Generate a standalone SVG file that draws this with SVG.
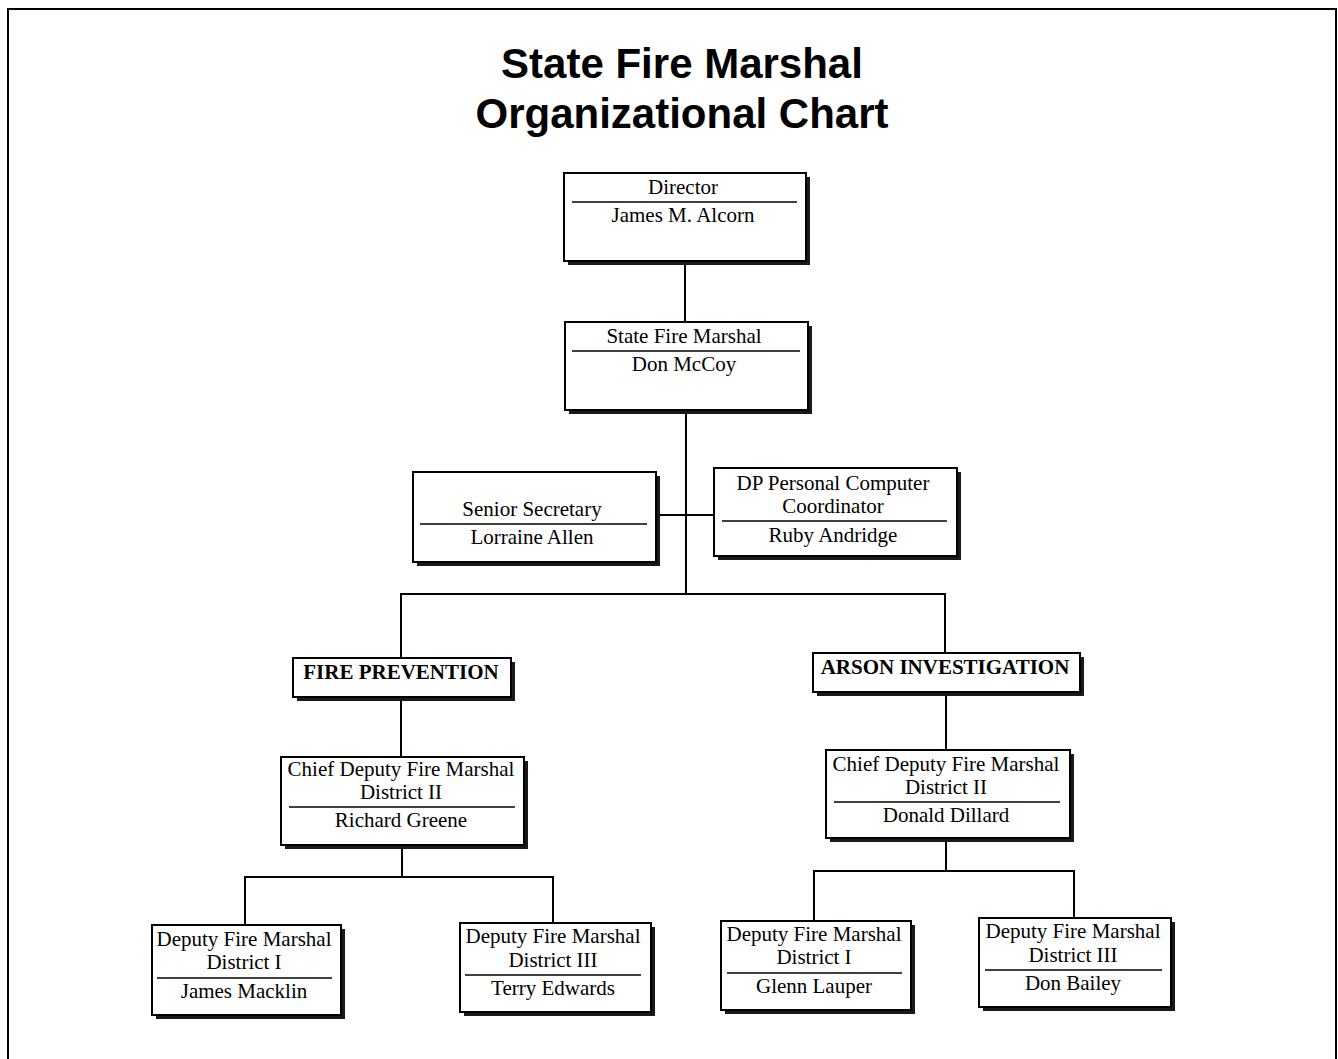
<svg xmlns="http://www.w3.org/2000/svg" width="1338" height="1059" viewBox="0 0 1338 1059">
<style>
.title{font-family:"Liberation Sans",Arial,sans-serif;font-weight:bold;font-size:42px;fill:#000;text-anchor:middle}
.t{font-family:"Liberation Serif","Times New Roman",serif;font-size:21px;fill:#000;text-anchor:middle}
.h{font-family:"Liberation Serif","Times New Roman",serif;font-size:21px;font-weight:bold;fill:#000;text-anchor:middle}
.sh{fill:#1a1a1a}
.bx{fill:#fff;stroke:#000;stroke-width:2}
.dv{stroke:#000;stroke-width:1.5}
.c{stroke:#000;stroke-width:2;fill:none}
</style>
<rect x="0" y="0" width="1338" height="1059" fill="#fff"/>
<path d="M8 1059 V9 H1336 V1059" fill="none" stroke="#000" stroke-width="2"/>
<text class="title" x="682" y="78">State Fire Marshal</text>
<text class="title" x="682" y="128">Organizational Chart</text>

<g id="connectors">
<path class="c" d="M685 265 V322"/>
<path class="c" d="M686 414 V594"/>
<path class="c" d="M660 515 H714"/>
<path class="c" d="M401 658 V594 H945 V653"/>
<path class="c" d="M401 701 V757"/>
<path class="c" d="M946 696 V750"/>
<path class="c" d="M402 849 V877"/>
<path class="c" d="M245 925 V877 H553 V923"/>
<path class="c" d="M946 842 V871"/>
<path class="c" d="M814 921 V871 H1074 V918"/>
</g>

<g id="director">
<rect class="sh" x="568" y="177" width="242" height="88"/>
<rect class="bx" x="564" y="173" width="242" height="88"/>
<line class="dv" x1="572" y1="202" x2="797" y2="202"/>
<text class="t" x="683" y="194">Director</text>
<text class="t" x="683" y="222">James M. Alcorn</text>
</g>

<g id="state-fire-marshal">
<rect class="sh" x="569" y="326" width="243" height="88"/>
<rect class="bx" x="565" y="322" width="243" height="88"/>
<line class="dv" x1="572" y1="351" x2="800" y2="351"/>
<text class="t" x="684" y="343">State Fire Marshal</text>
<text class="t" x="684" y="371">Don McCoy</text>
</g>

<g id="senior-secretary">
<rect class="sh" x="417" y="476" width="243" height="90"/>
<rect class="bx" x="413" y="472" width="243" height="90"/>
<line class="dv" x1="420" y1="524" x2="647" y2="524"/>
<text class="t" x="532" y="516">Senior Secretary</text>
<text class="t" x="532" y="544">Lorraine Allen</text>
</g>

<g id="dp-coordinator">
<rect class="sh" x="718" y="472" width="243" height="88"/>
<rect class="bx" x="714" y="468" width="243" height="88"/>
<line class="dv" x1="722" y1="521" x2="947" y2="521"/>
<text class="t" x="833" y="490">DP Personal Computer</text>
<text class="t" x="833" y="513">Coordinator</text>
<text class="t" x="833" y="542">Ruby Andridge</text>
</g>

<g id="fire-prevention">
<rect class="sh" x="297" y="662" width="218" height="39"/>
<rect class="bx" x="293" y="658" width="218" height="39"/>
<text class="h" x="401" y="679">FIRE PREVENTION</text>
</g>

<g id="arson-investigation">
<rect class="sh" x="817" y="657" width="267" height="39"/>
<rect class="bx" x="813" y="653" width="267" height="39"/>
<text class="h" x="945" y="674">ARSON INVESTIGATION</text>
</g>

<g id="chief-deputy-fp">
<rect class="sh" x="285" y="761" width="243" height="88"/>
<rect class="bx" x="281" y="757" width="243" height="88"/>
<line class="dv" x1="289" y1="807" x2="515" y2="807"/>
<text class="t" x="401" y="776">Chief Deputy Fire Marshal</text>
<text class="t" x="401" y="799">District II</text>
<text class="t" x="401" y="827">Richard Greene</text>
</g>

<g id="chief-deputy-ai">
<rect class="sh" x="830" y="754" width="244" height="88"/>
<rect class="bx" x="826" y="750" width="244" height="88"/>
<line class="dv" x1="834" y1="802" x2="1060" y2="802"/>
<text class="t" x="946" y="771">Chief Deputy Fire Marshal</text>
<text class="t" x="946" y="794">District II</text>
<text class="t" x="946" y="822">Donald Dillard</text>
</g>

<g id="deputy-fp-1">
<rect class="sh" x="156" y="929" width="189" height="90"/>
<rect class="bx" x="152" y="925" width="189" height="90"/>
<line class="dv" x1="157" y1="978" x2="332" y2="978"/>
<text class="t" x="244" y="946">Deputy Fire Marshal</text>
<text class="t" x="244" y="969">District I</text>
<text class="t" x="244" y="998">James Macklin</text>
</g>

<g id="deputy-fp-3">
<rect class="sh" x="464" y="927" width="191" height="89"/>
<rect class="bx" x="460" y="923" width="191" height="89"/>
<line class="dv" x1="465" y1="975" x2="641" y2="975"/>
<text class="t" x="553" y="943">Deputy Fire Marshal</text>
<text class="t" x="553" y="967">District III</text>
<text class="t" x="553" y="995">Terry Edwards</text>
</g>

<g id="deputy-ai-1">
<rect class="sh" x="725" y="925" width="190" height="89"/>
<rect class="bx" x="721" y="921" width="190" height="89"/>
<line class="dv" x1="727" y1="973" x2="902" y2="973"/>
<text class="t" x="814" y="941">Deputy Fire Marshal</text>
<text class="t" x="814" y="964">District I</text>
<text class="t" x="814" y="993">Glenn Lauper</text>
</g>

<g id="deputy-ai-3">
<rect class="sh" x="983" y="922" width="192" height="89"/>
<rect class="bx" x="979" y="918" width="192" height="89"/>
<line class="dv" x1="985" y1="970" x2="1162" y2="970"/>
<text class="t" x="1073" y="938">Deputy Fire Marshal</text>
<text class="t" x="1073" y="962">District III</text>
<text class="t" x="1073" y="990">Don Bailey</text>
</g>
</svg>
